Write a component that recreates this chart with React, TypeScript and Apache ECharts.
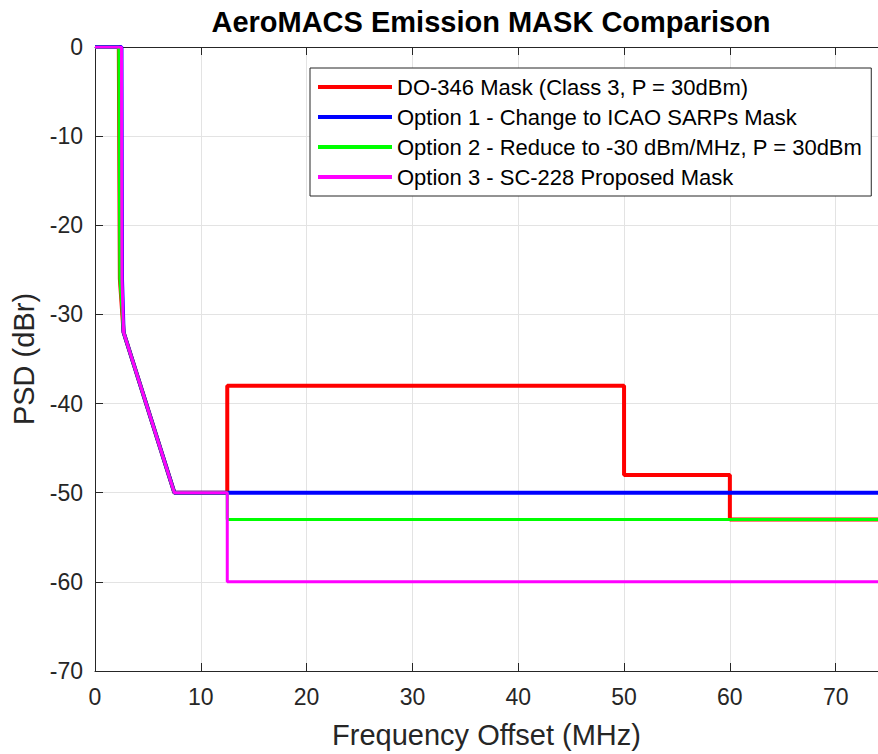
import React, { useEffect, useRef } from "react";
import * as echarts from "echarts";

const seriesNames = [
  "DO-346 Mask (Class 3, P = 30dBm)",
  "Option 1 - Change to ICAO SARPs Mask",
  "Option 2 - Reduce to -30 dBm/MHz, P = 30dBm",
  "Option 3 - SC-228 Proposed Mask",
];

const redX = [0, 2.25, 2.35, 2.7, 7.5, 12.5, 12.5, 50, 50, 60, 60, 75];
const redY = [0, 0, -26, -32, -50, -50, -38, -38, -48, -48, -53, -53];

const blueX = [0, 2.5, 2.55, 2.7, 7.5, 12.5, 75];
const blueY = [0, 0, -26, -32, -50, -50, -50];

const greenX = [0, 2.25, 2.35, 2.7, 7.5, 12.5, 12.5, 75];
const greenY = [0, 0, -26, -32, -50, -50, -53, -53];

const magentaX = [0, 2.5, 2.55, 2.7, 7.5, 12.5, 12.5, 75];
const magentaY = [0, 0, -26, -32, -50, -50, -60, -60];

const colors = ["#ff0000", "#0000ff", "#00ff00", "#ff00ff"];
const widths = [4, 4, 3, 3];

const xs = [redX, blueX, greenX, magentaX];
const ys = [redY, blueY, greenY, magentaY];

const FONT = "Liberation Sans, Arial, Helvetica, sans-serif";
const AX = "#262626";

export default function App() {
  const ref = useRef<HTMLDivElement>(null);
  useEffect(() => {
    if (!ref.current) return;
    const chart = echarts.init(ref.current, undefined, { renderer: "svg" });
    const series = seriesNames.map((name, i) => ({
      name,
      type: "line",
      data: xs[i].map((x, j) => [x, ys[i][j]]),
      symbol: "none",
      showSymbol: false,
      lineStyle: { color: colors[i], width: widths[i] },
      itemStyle: { color: colors[i] },
      xAxisIndex: 0,
      yAxisIndex: 0,
      z: 2 + i,
    }));
    chart.setOption({
      animation: false,
      backgroundColor: "#ffffff",
      textStyle: { fontFamily: FONT },
      title: {
        text: "AeroMACS Emission MASK Comparison",
        left: 491,
        top: 7,
        textAlign: "center",
        padding: 0,
        textStyle: { fontSize: 29, fontWeight: "bold", color: "#000", fontFamily: FONT },
      },
      legend: {
        orient: "vertical",
        left: 310,
        top: 68,
        icon: "rect",
        itemWidth: 74,
        itemHeight: 4,
        itemGap: 8,
        padding: [8, 9, 8, 8],
        borderColor: AX,
        borderWidth: 1,
        backgroundColor: "#ffffff",
        textStyle: { fontSize: 22, color: "#000", fontFamily: FONT, lineHeight: 22 },
        data: seriesNames,
      },
      grid: { left: 95, top: 47, right: 0, bottom: 79, containLabel: false },
      xAxis: [
        {
          type: "value",
          position: "bottom",
          min: 0,
          max: 74,
          interval: 10,
          name: "Frequency Offset (MHz)",
          nameLocation: "middle",
          nameGap: 49,
          nameTextStyle: { fontSize: 29, color: AX, fontFamily: FONT },
          axisLine: { show: true, onZero: false, lineStyle: { color: AX, width: 1 } },
          axisTick: { show: true, inside: true, length: 8, lineStyle: { color: AX } },
          axisLabel: { fontSize: 23, color: AX, margin: 14, showMaxLabel: false, fontFamily: FONT },
          splitLine: { show: true, lineStyle: { color: "#e3e3e3", width: 1 } },
        },
        {
          type: "value",
          position: "top",
          min: 0,
          max: 74,
          interval: 10,
          axisLine: { show: true, onZero: false, lineStyle: { color: AX, width: 1 } },
          axisTick: { show: true, inside: true, length: 8, lineStyle: { color: AX } },
          axisLabel: { show: false },
          splitLine: { show: false },
        },
      ],
      yAxis: {
        type: "value",
        min: -70,
        max: 0,
        interval: 10,
        name: "PSD (dBr)",
        nameLocation: "middle",
        nameGap: 54,
        nameTextStyle: { fontSize: 29, color: AX, fontFamily: FONT },
        axisLine: { show: true, onZero: false, lineStyle: { color: AX, width: 1 } },
        axisTick: { show: true, inside: true, length: 8, lineStyle: { color: AX } },
        axisLabel: { fontSize: 23, color: AX, margin: 12, fontFamily: FONT },
        splitLine: { show: true, lineStyle: { color: "#e3e3e3", width: 1 } },
      },
      series,
    });
    return () => chart.dispose();
  }, []);
  return (
    <div
      ref={ref}
      style={{ position: "absolute", left: 0, top: 0, width: 878, height: 754 }}
    />
  );
}
